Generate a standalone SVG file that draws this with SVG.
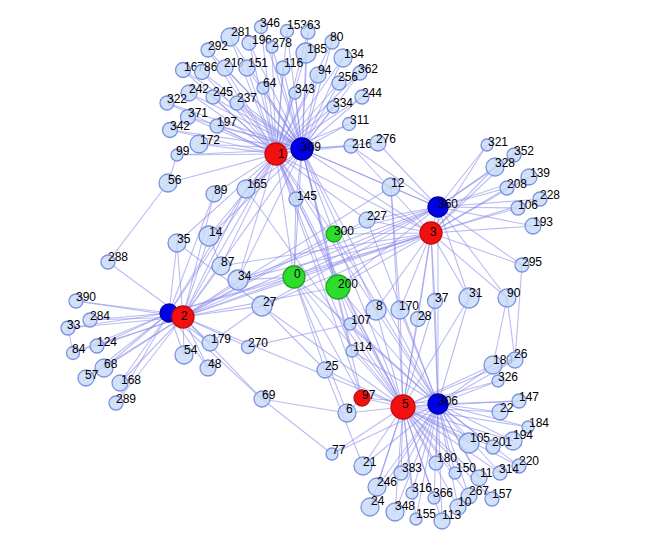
<svg xmlns="http://www.w3.org/2000/svg" width="646" height="552" viewBox="0 0 646 552">
<style>
.e path{stroke:#8a8aec;stroke-opacity:.58;stroke-width:1.1;fill:none}
.n circle{fill:#c6daf8;fill-opacity:.8;stroke:#7a92e0;stroke-width:1.3}
.n.r circle{fill:#f21010;fill-opacity:1;stroke:#c80a0a}
.n.b circle{fill:#0000e6;fill-opacity:1;stroke:#0000a8}
.n.g circle{fill:#2edc2e;fill-opacity:1;stroke:#1aa81a}
text{font-family:"Liberation Sans",Arial,sans-serif;font-size:12px;fill:#000}
</style>
<rect width="646" height="552" fill="#fff"/>
<g id="connectors" class="e">
<path d="M276 154 302 149"/><path d="M276 154 183 317"/><path d="M276 154 169 313"/><path d="M302 149 183 317"/>
<path d="M276 154 431 233"/><path d="M302 149 438 207"/><path d="M302 149 431 233"/><path d="M431 233 438 207"/>
<path d="M403 407 438 404"/><path d="M403 407 362 398"/><path d="M438 404 362 398"/><path d="M183 317 403 407"/>
<path d="M431 233 403 407"/><path d="M431 233 438 404"/><path d="M438 207 438 404"/><path d="M276 154 403 407"/>
<path d="M302 149 438 404"/><path d="M183 317 431 233"/><path d="M183 317 438 207"/><path d="M169 313 431 233"/>
<path d="M294 277 276 154"/><path d="M294 277 302 149"/><path d="M294 277 183 317"/><path d="M294 277 169 313"/><path d="M294 277 431 233"/><path d="M294 277 438 207"/><path d="M294 277 403 407"/><path d="M294 277 438 404"/><path d="M294 277 296 199"/><path d="M294 277 238 280"/>
<path d="M338 287 276 154"/><path d="M338 287 302 149"/><path d="M338 287 183 317"/><path d="M338 287 431 233"/><path d="M338 287 438 207"/><path d="M338 287 403 407"/><path d="M338 287 438 404"/><path d="M338 287 350 324"/>
<path d="M334 234 276 154"/><path d="M334 234 302 149"/><path d="M334 234 183 317"/><path d="M334 234 431 233"/><path d="M334 234 438 207"/><path d="M334 234 403 407"/><path d="M334 234 438 404"/>
<path d="M261 27 276 154"/><path d="M261 27 302 149"/>
<path d="M287 31 276 154"/><path d="M287 31 302 149"/>
<path d="M308 32 276 154"/><path d="M308 32 302 149"/>
<path d="M230 37 276 154"/><path d="M230 37 302 149"/>
<path d="M249 43 276 154"/><path d="M249 43 302 149"/>
<path d="M272 47 276 154"/><path d="M272 47 302 149"/>
<path d="M332 42 276 154"/><path d="M332 42 302 149"/>
<path d="M306 53 276 154"/><path d="M306 53 302 149"/>
<path d="M208 50 276 154"/><path d="M208 50 302 149"/>
<path d="M343 58 276 154"/><path d="M343 58 302 149"/>
<path d="M183 70 276 154"/><path d="M183 70 302 149"/>
<path d="M202 72 276 154"/><path d="M202 72 302 149"/>
<path d="M225 68 276 154"/><path d="M225 68 302 149"/>
<path d="M247 68 276 154"/><path d="M247 68 302 149"/>
<path d="M283 68 276 154"/><path d="M283 68 302 149"/>
<path d="M318 75 276 154"/><path d="M318 75 302 149"/>
<path d="M360 73 276 154"/><path d="M360 73 302 149"/>
<path d="M339 83 276 154"/><path d="M339 83 302 149"/>
<path d="M189 93 276 154"/><path d="M189 93 302 149"/>
<path d="M213 97 276 154"/><path d="M213 97 302 149"/>
<path d="M263 88 276 154"/><path d="M263 88 302 149"/>
<path d="M295 93 276 154"/><path d="M295 93 302 149"/>
<path d="M237 103 276 154"/><path d="M237 103 302 149"/>
<path d="M362 97 276 154"/><path d="M362 97 302 149"/>
<path d="M167 103 276 154"/><path d="M167 103 302 149"/>
<path d="M333 107 276 154"/><path d="M333 107 302 149"/>
<path d="M188 117 276 154"/><path d="M188 117 302 149"/>
<path d="M217 126 276 154"/><path d="M217 126 302 149"/>
<path d="M349 124 276 154"/><path d="M349 124 302 149"/>
<path d="M170 130 276 154"/><path d="M170 130 302 149"/>
<path d="M199 144 276 154"/><path d="M199 144 302 149"/>
<path d="M351 146 276 154"/><path d="M351 146 302 149"/><path d="M351 146 438 207"/><path d="M351 146 431 233"/>
<path d="M378 143 302 149"/><path d="M378 143 438 207"/>
<path d="M177 155 276 154"/><path d="M177 155 302 149"/>
<path d="M76 301 183 317"/><path d="M76 301 169 313"/>
<path d="M90 320 183 317"/><path d="M90 320 169 313"/>
<path d="M68 328 183 317"/><path d="M68 328 169 313"/>
<path d="M97 346 183 317"/><path d="M97 346 169 313"/>
<path d="M73 353 183 317"/><path d="M73 353 169 313"/>
<path d="M104 368 183 317"/><path d="M104 368 169 313"/>
<path d="M86 378 183 317"/><path d="M86 378 169 313"/>
<path d="M120 383 183 317"/><path d="M120 383 169 313"/>
<path d="M116 403 183 317"/><path d="M116 403 169 313"/>
<path d="M184 355 183 317"/><path d="M184 355 169 313"/>
<path d="M208 368 183 317"/><path d="M208 368 169 313"/>
<path d="M210 343 183 317"/><path d="M210 343 169 313"/><path d="M210 343 262 306"/>
<path d="M108 262 183 317"/><path d="M108 262 168 183"/><path d="M68 328 73 353"/>
<path d="M487 145 431 233"/><path d="M487 145 438 207"/>
<path d="M514 155 431 233"/><path d="M514 155 438 207"/>
<path d="M495 167 431 233"/><path d="M495 167 438 207"/>
<path d="M529 177 431 233"/><path d="M529 177 438 207"/>
<path d="M507 188 431 233"/><path d="M507 188 438 207"/>
<path d="M540 199 431 233"/><path d="M540 199 438 207"/>
<path d="M518 208 431 233"/><path d="M518 208 438 207"/>
<path d="M533 226 431 233"/><path d="M533 226 438 207"/>
<path d="M522 265 431 233"/><path d="M522 265 438 207"/><path d="M522 265 515 360"/>
<path d="M493 365 403 407"/><path d="M493 365 438 404"/>
<path d="M515 360 403 407"/><path d="M515 360 438 404"/>
<path d="M498 381 403 407"/><path d="M498 381 438 404"/>
<path d="M519 401 403 407"/><path d="M519 401 438 404"/>
<path d="M500 412 403 407"/><path d="M500 412 438 404"/>
<path d="M528 427 403 407"/><path d="M528 427 438 404"/>
<path d="M469 443 403 407"/><path d="M469 443 438 404"/>
<path d="M493 447 403 407"/><path d="M493 447 438 404"/>
<path d="M513 441 403 407"/><path d="M513 441 438 404"/>
<path d="M519 466 403 407"/><path d="M519 466 438 404"/>
<path d="M500 473 403 407"/><path d="M500 473 438 404"/>
<path d="M479 478 403 407"/><path d="M479 478 438 404"/>
<path d="M455 473 403 407"/><path d="M455 473 438 404"/>
<path d="M436 463 403 407"/><path d="M436 463 438 404"/>
<path d="M401 473 403 407"/><path d="M401 473 438 404"/>
<path d="M377 487 403 407"/><path d="M377 487 438 404"/>
<path d="M412 493 403 407"/><path d="M412 493 438 404"/>
<path d="M434 498 403 407"/><path d="M434 498 438 404"/>
<path d="M469 496 403 407"/><path d="M469 496 438 404"/>
<path d="M492 499 403 407"/><path d="M492 499 438 404"/>
<path d="M370 507 403 407"/><path d="M370 507 438 404"/>
<path d="M395 512 403 407"/><path d="M395 512 438 404"/>
<path d="M458 507 403 407"/><path d="M458 507 438 404"/>
<path d="M416 519 403 407"/><path d="M416 519 438 404"/>
<path d="M442 521 403 407"/><path d="M442 521 438 404"/>
<path d="M363 466 403 407"/><path d="M363 466 438 404"/>
<path d="M391 187 302 149"/><path d="M391 187 438 207"/><path d="M391 187 183 317"/><path d="M391 187 403 407"/>
<path d="M367 220 276 154"/><path d="M367 220 438 207"/><path d="M367 220 431 233"/><path d="M367 220 183 317"/><path d="M367 220 438 404"/>
<path d="M296 199 276 154"/><path d="M296 199 302 149"/><path d="M296 199 403 407"/>
<path d="M246 189 276 154"/><path d="M246 189 302 149"/><path d="M246 189 183 317"/><path d="M246 189 169 313"/><path d="M246 189 403 407"/>
<path d="M214 194 276 154"/><path d="M214 194 183 317"/><path d="M214 194 169 313"/>
<path d="M168 183 276 154"/><path d="M168 183 177 155"/>
<path d="M209 236 276 154"/><path d="M209 236 302 149"/><path d="M209 236 183 317"/><path d="M209 236 221 266"/>
<path d="M177 243 276 154"/><path d="M177 243 183 317"/><path d="M177 243 169 313"/><path d="M177 243 262 306"/>
<path d="M221 266 276 154"/><path d="M221 266 183 317"/><path d="M221 266 431 233"/>
<path d="M238 280 276 154"/><path d="M238 280 302 149"/><path d="M238 280 183 317"/><path d="M238 280 431 233"/><path d="M238 280 438 207"/>
<path d="M262 306 183 317"/><path d="M262 306 431 233"/><path d="M262 306 438 207"/><path d="M262 306 403 407"/><path d="M262 306 325 370"/>
<path d="M376 310 276 154"/><path d="M376 310 302 149"/><path d="M376 310 431 233"/><path d="M376 310 403 407"/><path d="M376 310 438 404"/>
<path d="M400 310 391 187"/><path d="M400 310 403 407"/><path d="M400 310 438 404"/><path d="M400 310 431 233"/>
<path d="M435 301 431 233"/><path d="M435 301 438 404"/><path d="M435 301 403 407"/>
<path d="M418 319 431 233"/><path d="M418 319 403 407"/>
<path d="M469 298 431 233"/><path d="M469 298 438 207"/><path d="M469 298 403 407"/><path d="M469 298 438 404"/>
<path d="M507 298 431 233"/><path d="M507 298 438 207"/><path d="M507 298 493 365"/><path d="M507 298 515 360"/>
<path d="M350 324 248 347"/><path d="M350 324 403 407"/><path d="M350 324 438 404"/>
<path d="M352 351 276 154"/><path d="M352 351 302 149"/><path d="M352 351 403 407"/><path d="M352 351 438 404"/>
<path d="M248 347 183 317"/>
<path d="M325 370 403 407"/><path d="M325 370 363 466"/><path d="M325 370 294 277"/>
<path d="M262 399 183 317"/><path d="M262 399 169 313"/><path d="M262 399 347 413"/><path d="M262 399 332 454"/>
<path d="M347 413 403 407"/><path d="M347 413 362 398"/><path d="M347 413 294 277"/>
<path d="M332 454 403 407"/><path d="M332 454 438 404"/>
<path d="M362 398 276 154"/><path d="M362 398 302 149"/><path d="M362 398 294 277"/>
</g>
<g id="nodes">
<g id="n346" class="n"><circle cx="261" cy="27" r="6.5"/><text x="260" y="27">346</text></g>
<g id="n153" class="n"><circle cx="287" cy="31" r="6.5"/><text x="287" y="29">153</text></g>
<g id="n63" class="n"><circle cx="308" cy="32" r="7"/><text x="307" y="29">63</text></g>
<g id="n281" class="n"><circle cx="230" cy="37" r="9"/><text x="231" y="36">281</text></g>
<g id="n196" class="n"><circle cx="249" cy="43" r="7"/><text x="252" y="44">196</text></g>
<g id="n278" class="n"><circle cx="272" cy="47" r="6"/><text x="272" y="47">278</text></g>
<g id="n80" class="n"><circle cx="332" cy="42" r="7"/><text x="330" y="41">80</text></g>
<g id="n185" class="n"><circle cx="306" cy="53" r="10"/><text x="307" y="53">185</text></g>
<g id="n292" class="n"><circle cx="208" cy="50" r="7"/><text x="208" y="50">292</text></g>
<g id="n134" class="n"><circle cx="343" cy="58" r="9"/><text x="344" y="58">134</text></g>
<g id="n167" class="n"><circle cx="183" cy="70" r="7.5"/><text x="184" y="71">167</text></g>
<g id="n86" class="n"><circle cx="202" cy="72" r="7.5"/><text x="204" y="71">86</text></g>
<g id="n210" class="n"><circle cx="225" cy="68" r="8"/><text x="224" y="67">210</text></g>
<g id="n151" class="n"><circle cx="247" cy="68" r="8"/><text x="248" y="67">151</text></g>
<g id="n116" class="n"><circle cx="283" cy="68" r="7"/><text x="284" y="67">116</text></g>
<g id="n94" class="n"><circle cx="318" cy="75" r="8"/><text x="318" y="74">94</text></g>
<g id="n362" class="n"><circle cx="360" cy="73" r="7"/><text x="358" y="73">362</text></g>
<g id="n256" class="n"><circle cx="339" cy="83" r="7"/><text x="338" y="81">256</text></g>
<g id="n242" class="n"><circle cx="189" cy="93" r="8"/><text x="189" y="93">242</text></g>
<g id="n245" class="n"><circle cx="213" cy="97" r="7"/><text x="213" y="96">245</text></g>
<g id="n64" class="n"><circle cx="263" cy="88" r="6"/><text x="263" y="87">64</text></g>
<g id="n343" class="n"><circle cx="295" cy="93" r="6"/><text x="295" y="93">343</text></g>
<g id="n237" class="n"><circle cx="237" cy="103" r="7"/><text x="237" y="102">237</text></g>
<g id="n244" class="n"><circle cx="362" cy="97" r="7"/><text x="362" y="97">244</text></g>
<g id="n322" class="n"><circle cx="167" cy="103" r="7"/><text x="167" y="103">322</text></g>
<g id="n334" class="n"><circle cx="333" cy="107" r="6"/><text x="333" y="107">334</text></g>
<g id="n371" class="n"><circle cx="188" cy="117" r="7.5"/><text x="188" y="117">371</text></g>
<g id="n197" class="n"><circle cx="217" cy="126" r="7"/><text x="217" y="126">197</text></g>
<g id="n311" class="n"><circle cx="349" cy="124" r="6.5"/><text x="350" y="124">311</text></g>
<g id="n342" class="n"><circle cx="170" cy="130" r="7.5"/><text x="170" y="130">342</text></g>
<g id="n172" class="n"><circle cx="199" cy="144" r="9"/><text x="200" y="144">172</text></g>
<g id="n216" class="n"><circle cx="351" cy="146" r="7"/><text x="352" y="148">216</text></g>
<g id="n276" class="n"><circle cx="378" cy="143" r="8"/><text x="376" y="143">276</text></g>
<g id="n99" class="n"><circle cx="177" cy="155" r="6"/><text x="176" y="155">99</text></g>
<g id="n56" class="n"><circle cx="168" cy="183" r="9"/><text x="168" y="184">56</text></g>
<g id="n89" class="n"><circle cx="214" cy="194" r="8"/><text x="214" y="194">89</text></g>
<g id="n165" class="n"><circle cx="246" cy="189" r="9"/><text x="247" y="188">165</text></g>
<g id="n145" class="n"><circle cx="296" cy="199" r="7"/><text x="297" y="200">145</text></g>
<g id="n12" class="n"><circle cx="391" cy="187" r="9"/><text x="391" y="187">12</text></g>
<g id="n227" class="n"><circle cx="367" cy="220" r="8"/><text x="367" y="220">227</text></g>
<g id="n14" class="n"><circle cx="209" cy="236" r="10"/><text x="209" y="236">14</text></g>
<g id="n35" class="n"><circle cx="177" cy="243" r="9"/><text x="177" y="243">35</text></g>
<g id="n87" class="n"><circle cx="221" cy="266" r="9"/><text x="221" y="266">87</text></g>
<g id="n34" class="n"><circle cx="238" cy="280" r="10"/><text x="238" y="280">34</text></g>
<g id="n27" class="n"><circle cx="262" cy="306" r="10"/><text x="263" y="306">27</text></g>
<g id="n288" class="n"><circle cx="108" cy="262" r="7"/><text x="108" y="261">288</text></g>
<g id="n390" class="n"><circle cx="76" cy="301" r="7"/><text x="76" y="301">390</text></g>
<g id="n284" class="n"><circle cx="90" cy="320" r="7"/><text x="90" y="320">284</text></g>
<g id="n33" class="n"><circle cx="68" cy="328" r="7"/><text x="67" y="329">33</text></g>
<g id="n124" class="n"><circle cx="97" cy="346" r="7"/><text x="97" y="346">124</text></g>
<g id="n84" class="n"><circle cx="73" cy="353" r="6.5"/><text x="72" y="353">84</text></g>
<g id="n68" class="n"><circle cx="104" cy="368" r="9"/><text x="104" y="368">68</text></g>
<g id="n57" class="n"><circle cx="86" cy="378" r="8"/><text x="85" y="379">57</text></g>
<g id="n168" class="n"><circle cx="120" cy="383" r="8"/><text x="121" y="384">168</text></g>
<g id="n289" class="n"><circle cx="116" cy="403" r="7"/><text x="116" y="403">289</text></g>
<g id="n54" class="n"><circle cx="184" cy="355" r="9"/><text x="184" y="354">54</text></g>
<g id="n48" class="n"><circle cx="208" cy="368" r="8"/><text x="208" y="368">48</text></g>
<g id="n179" class="n"><circle cx="210" cy="343" r="8"/><text x="211" y="343">179</text></g>
<g id="n270" class="n"><circle cx="248" cy="347" r="6.5"/><text x="248" y="347">270</text></g>
<g id="n69" class="n"><circle cx="262" cy="399" r="8"/><text x="262" y="399">69</text></g>
<g id="n8" class="n"><circle cx="376" cy="310" r="10"/><text x="376" y="310">8</text></g>
<g id="n170" class="n"><circle cx="400" cy="310" r="9"/><text x="399" y="310">170</text></g>
<g id="n37" class="n"><circle cx="435" cy="301" r="7.5"/><text x="435" y="302">37</text></g>
<g id="n28" class="n"><circle cx="418" cy="319" r="7.5"/><text x="418" y="320">28</text></g>
<g id="n31" class="n"><circle cx="469" cy="298" r="10"/><text x="469" y="297">31</text></g>
<g id="n90" class="n"><circle cx="507" cy="298" r="9"/><text x="507" y="297">90</text></g>
<g id="n107" class="n"><circle cx="350" cy="324" r="6"/><text x="351" y="324">107</text></g>
<g id="n114" class="n"><circle cx="352" cy="351" r="6"/><text x="353" y="351">114</text></g>
<g id="n25" class="n"><circle cx="325" cy="370" r="8"/><text x="325" y="370">25</text></g>
<g id="n6" class="n"><circle cx="347" cy="413" r="9"/><text x="346" y="413">6</text></g>
<g id="n77" class="n"><circle cx="332" cy="454" r="6"/><text x="332" y="454">77</text></g>
<g id="n321" class="n"><circle cx="487" cy="145" r="6"/><text x="488" y="146">321</text></g>
<g id="n352" class="n"><circle cx="514" cy="155" r="7"/><text x="514" y="155">352</text></g>
<g id="n328" class="n"><circle cx="495" cy="167" r="9"/><text x="495" y="167">328</text></g>
<g id="n139" class="n"><circle cx="529" cy="177" r="8"/><text x="530" y="177">139</text></g>
<g id="n208" class="n"><circle cx="507" cy="188" r="7"/><text x="507" y="188">208</text></g>
<g id="n228" class="n"><circle cx="540" cy="199" r="7"/><text x="540" y="199">228</text></g>
<g id="n106" class="n"><circle cx="518" cy="208" r="7"/><text x="518" y="209">106</text></g>
<g id="n193" class="n"><circle cx="533" cy="226" r="8"/><text x="533" y="226">193</text></g>
<g id="n295" class="n"><circle cx="522" cy="265" r="7"/><text x="522" y="266">295</text></g>
<g id="n189" class="n"><circle cx="493" cy="365" r="9"/><text x="493" y="364">189</text></g>
<g id="n26" class="n"><circle cx="515" cy="360" r="8"/><text x="514" y="358">26</text></g>
<g id="n326" class="n"><circle cx="498" cy="381" r="6"/><text x="498" y="381">326</text></g>
<g id="n147" class="n"><circle cx="519" cy="401" r="7"/><text x="519" y="401">147</text></g>
<g id="n22" class="n"><circle cx="500" cy="412" r="8"/><text x="500" y="412">22</text></g>
<g id="n184" class="n"><circle cx="528" cy="427" r="6"/><text x="529" y="427">184</text></g>
<g id="n105" class="n"><circle cx="469" cy="443" r="10"/><text x="470" y="442">105</text></g>
<g id="n194" class="n"><circle cx="513" cy="441" r="9"/><text x="513" y="439">194</text></g>
<g id="n201" class="n"><circle cx="493" cy="447" r="7"/><text x="492" y="446">201</text></g>
<g id="n220" class="n"><circle cx="519" cy="466" r="7"/><text x="519" y="465">220</text></g>
<g id="n314" class="n"><circle cx="500" cy="473" r="7"/><text x="499" y="473">314</text></g>
<g id="n11" class="n"><circle cx="479" cy="478" r="8"/><text x="480" y="477">11</text></g>
<g id="n150" class="n"><circle cx="455" cy="473" r="6"/><text x="456" y="472">150</text></g>
<g id="n180" class="n"><circle cx="436" cy="463" r="7"/><text x="437" y="462">180</text></g>
<g id="n383" class="n"><circle cx="401" cy="473" r="7"/><text x="402" y="472">383</text></g>
<g id="n246" class="n"><circle cx="377" cy="487" r="9"/><text x="377" y="486">246</text></g>
<g id="n316" class="n"><circle cx="412" cy="493" r="6"/><text x="412" y="492">316</text></g>
<g id="n366" class="n"><circle cx="434" cy="498" r="6"/><text x="433" y="497">366</text></g>
<g id="n267" class="n"><circle cx="469" cy="496" r="8"/><text x="469" y="495">267</text></g>
<g id="n157" class="n"><circle cx="492" cy="499" r="7"/><text x="492" y="498">157</text></g>
<g id="n24" class="n"><circle cx="370" cy="507" r="9"/><text x="371" y="505">24</text></g>
<g id="n348" class="n"><circle cx="395" cy="512" r="9"/><text x="395" y="510">348</text></g>
<g id="n10" class="n"><circle cx="458" cy="507" r="8"/><text x="458" y="506">10</text></g>
<g id="n155" class="n"><circle cx="416" cy="519" r="6"/><text x="416" y="518">155</text></g>
<g id="n113" class="n"><circle cx="442" cy="521" r="8"/><text x="442" y="519">113</text></g>
<g id="n21" class="n"><circle cx="363" cy="466" r="9"/><text x="363" y="466">21</text></g>
<g id="n0" class="n g"><circle cx="294" cy="277" r="11"/><text x="294" y="278">0</text></g>
<g id="n200" class="n g"><circle cx="338" cy="287" r="12"/><text x="338" y="288">200</text></g>
<g id="n300" class="n g"><circle cx="334" cy="234" r="8"/><text x="334" y="235">300</text></g>
<g id="n1" class="n r"><circle cx="276" cy="154" r="11"/><text x="278" y="158">1</text></g>
<g id="n309" class="n b"><circle cx="302" cy="149" r="11"/><text x="301" y="151">309</text></g>
<g id="n2b" class="n b"><circle cx="169" cy="313" r="9"/></g>
<g id="n2" class="n r"><circle cx="183" cy="317" r="11"/><text x="181" y="320">2</text></g>
<g id="n360" class="n b"><circle cx="438" cy="207" r="10"/><text x="438" y="208">360</text></g>
<g id="n3" class="n r"><circle cx="431" cy="233" r="11"/><text x="430" y="236">3</text></g>
<g id="n306" class="n b"><circle cx="438" cy="404" r="10"/><text x="438" y="405">306</text></g>
<g id="n5" class="n r"><circle cx="403" cy="407" r="12"/><text x="402" y="408">5</text></g>
<g id="n97" class="n r"><circle cx="362" cy="398" r="8"/><text x="362" y="399">97</text></g>
</g>
</svg>
